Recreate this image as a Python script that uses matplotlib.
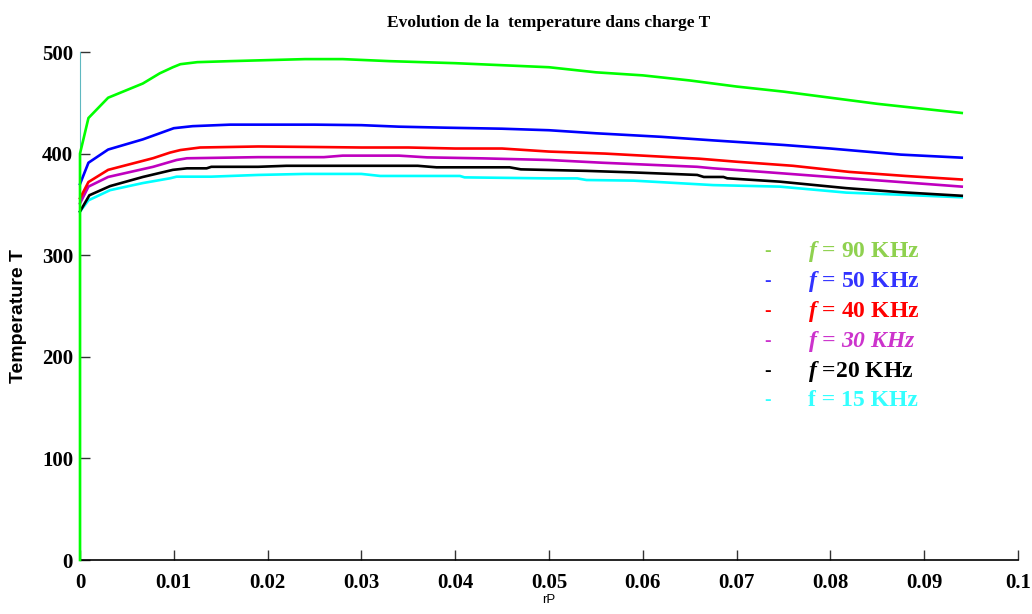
import matplotlib

matplotlib.use("Agg")
import matplotlib.pyplot as plt

# temperature in the load for several supply frequencies, vs rP
t_90 = [0, 0, 0.0009, 0.003, 0.0067, 0.0085, 0.0099, 0.0107, 0.0125, 0.016, 0.02, 0.024,
        0.028, 0.033, 0.04, 0.045, 0.05, 0.055, 0.06, 0.065, 0.07, 0.075, 0.08, 0.085, 0.09, 0.094]
T_90 = [0, 400, 435, 455, 469, 479, 485, 488, 490, 491, 492, 493,
        493, 491, 489, 487, 485, 480, 477, 472, 466, 461, 455, 449, 444, 440]

t_50 = [0, 0.0009, 0.003, 0.0067, 0.01, 0.012, 0.016, 0.02, 0.025, 0.03, 0.034, 0.039,
        0.045, 0.05, 0.055, 0.062, 0.0675, 0.075, 0.08, 0.0875, 0.094]
T_50 = [370, 391, 404, 414, 425, 427, 428.5, 428.5, 428.5, 428, 426.5, 425.5,
        424.5, 423, 420, 416.5, 413, 408.5, 405, 399, 396]

t_40 = [0, 0.0009, 0.003, 0.0078, 0.0096, 0.0107, 0.0128, 0.019, 0.025, 0.03, 0.035,
        0.04, 0.045, 0.05, 0.056, 0.062, 0.066, 0.07, 0.076, 0.082, 0.088, 0.094]
T_40 = [356, 372, 384, 395.5, 401, 403.5, 406, 407, 406.5, 406, 406,
        405, 405, 402, 400, 397, 395, 392, 388, 382, 378, 374.5]

t_30 = [0, 0.0009, 0.003, 0.0078, 0.0103, 0.0114, 0.019, 0.026, 0.028, 0.034, 0.037,
        0.043, 0.05, 0.0557, 0.062, 0.0658, 0.0675, 0.0728, 0.08, 0.086, 0.094]
T_30 = [351, 367.5, 377, 387, 393.7, 395.4, 396.5, 396.5, 398, 398, 396.3,
        395.3, 393.7, 391, 388.5, 387, 385.5, 382, 377, 373, 367.5]

t_20 = [0, 0.001, 0.0032, 0.0067, 0.0099, 0.0114, 0.0135, 0.014, 0.019, 0.022, 0.036, 0.038,
        0.0458, 0.047, 0.054, 0.0586, 0.0658, 0.0665, 0.0686, 0.069, 0.0746, 0.0817, 0.0875, 0.094]
T_20 = [343, 359, 368, 377, 384, 385.5, 385.5, 387, 387, 388, 388, 386.5,
        386.5, 384.5, 383, 381.6, 379, 377, 377, 375.7, 372.4, 366, 362, 358.5]

t_15 = [0, 0.0009, 0.0032, 0.0067, 0.0096, 0.0103, 0.014, 0.019, 0.024, 0.03, 0.032,
        0.0405, 0.041, 0.05, 0.053, 0.054, 0.059, 0.0675, 0.0746, 0.0817, 0.0875, 0.094]
T_15 = [343, 354, 364, 371, 375.7, 377.3, 377.3, 379, 380, 380, 378,
        378, 376.6, 375.6, 375.6, 374, 373.4, 369, 367.5, 361.6, 359.5, 357]

x_ticks = [0, 0.01, 0.02, 0.03, 0.04, 0.05, 0.06, 0.07, 0.08, 0.09, 0.1]
x_tick_labels = ["0", "0.01", "0.02", "0.03", "0.04", "0.05", "0.06", "0.07", "0.08", "0.09", "0.1"]
y_ticks = [0, 100, 200, 300, 400, 500]

series = [
    (t_15, T_15, "#00ffff"),
    (t_20, T_20, "#000000"),
    (t_30, T_30, "#bf00bf"),
    (t_40, T_40, "#ff0000"),
    (t_50, T_50, "#0000ff"),
    (t_90, T_90, "#00ff00"),
]

# legend entries: (text, colour, all italic)
legend_rows = [
    (r"$f$ = 90 KHz", "#8fd14f", False),
    (r"$f$ = 50 KHz", "#3333ff", False),
    (r"$f$ = 40 KHz", "#ff0000", False),
    (r"$f$ = 30 KHz", "#cc33cc", True),
    (r"$f$ =20 KHz", "#000000", False),
    (r"f = 15 KHz", "#33ffff", False),
]

plt.rcParams["mathtext.fontset"] = "custom"
plt.rcParams["mathtext.it"] = "Liberation Serif:italic:bold"
plt.rcParams["mathtext.rm"] = "Liberation Serif:bold"

fig = plt.figure(figsize=(10.32, 6.14), dpi=100)
ax = fig.add_axes([80 / 1032, 1 - 560 / 614, 938 / 1032, 508 / 614])

for i, (t, T, c) in enumerate(series):
    ax.plot(t, T, color=c, linewidth=1.9, zorder=3 + i, clip_on=False)

ax.set_xlim(0, 0.1)
ax.set_ylim(0, 500)
ax.set_xticks(x_ticks)
ax.set_xticklabels(x_tick_labels)
ax.set_yticks(y_ticks)

serif = dict(family="Liberation Serif", weight="bold", size=15)
for lab in ax.get_xticklabels() + ax.get_yticklabels():
    lab.set_fontproperties(matplotlib.font_manager.FontProperties(**serif))

ax.tick_params(direction="in", length=7, width=1, color="#333333")
ax.tick_params(axis="x", pad=9)
ax.tick_params(axis="y", pad=5)
ax.spines["top"].set_visible(False)
ax.spines["right"].set_visible(False)
ax.spines["left"].set_color("#5fb8c0")
ax.spines["bottom"].set_linewidth(1.2)

ax.set_title("Evolution de la  temperature dans charge T", family="Liberation Serif",
             weight="bold", size=12.5, pad=18)
ax.set_ylabel("Temperature T", family="Liberation Sans", weight="bold", size=14)
ax.yaxis.set_label_coords(-0.057, 0.48)
ax.set_xlabel("rP", family="Liberation Sans", size=9.5, labelpad=1)

y0 = 0.608
for k, (txt, c, ital) in enumerate(legend_rows):
    y = y0 - k * 0.059
    ax.text(0.729, y, "-", color=c, transform=ax.transAxes, va="center",
            family="Liberation Serif", weight="bold", size=14)
    ax.text(0.776, y, txt, color=c, transform=ax.transAxes, va="center",
            family="Liberation Serif", weight="bold", size=17,
            style="italic" if ital else "normal")

fig.savefig("out.png", dpi=100)
